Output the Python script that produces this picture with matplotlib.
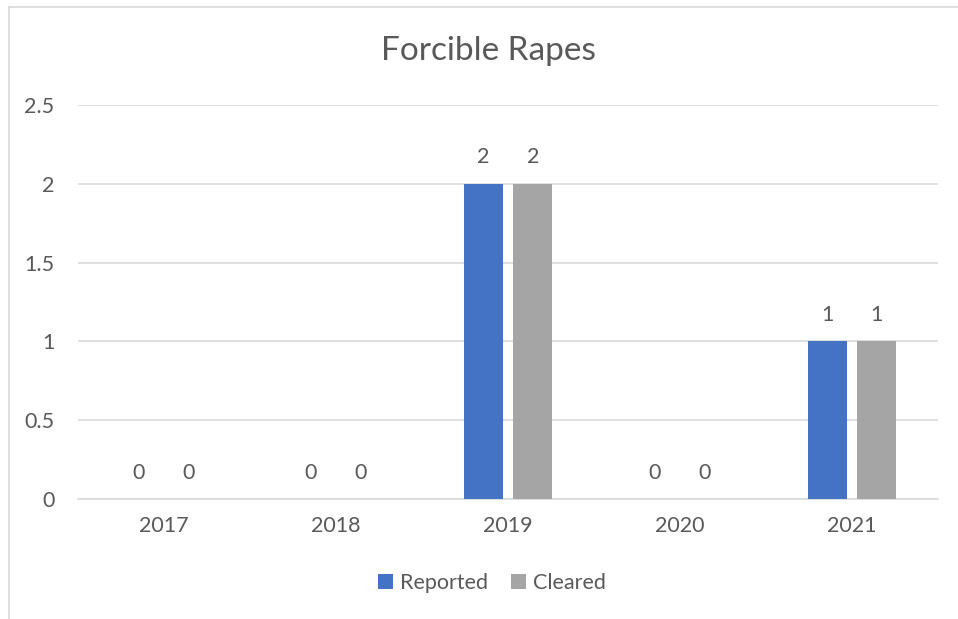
import numpy as np
import matplotlib.pyplot as plt
from matplotlib.lines import Line2D

### rcParams ###
plt.rcParams['font.family'] = ['Lato', 'DejaVu Sans']
plt.rcParams['text.color'] = '#595959'
plt.rcParams['xtick.color'] = '#595959'
plt.rcParams['ytick.color'] = '#595959'

TXT = 15.5
GRID = '#d9d9d9'

years = ['2017', '2018', '2019', '2020', '2021']
reported = [0, 0, 2, 0, 1]
cleared = [0, 0, 2, 0, 1]
series = [('Reported', reported, '#4472c4'), ('Cleared', cleared, '#a5a5a5')]

W, H = 958, 619
fig = plt.figure(figsize=(W / 100, H / 100), dpi=100)
ax = fig.add_axes([78 / W, 1 - 499 / H, 860 / W, 394 / H])

x = np.arange(len(years))
width = 0.227
offsets = [-0.145, 0.145]

for (name, vals, col), off in zip(series, offsets):
    bars = ax.bar(x + off, vals, width, color=col, label=name, zorder=3)
    for b, v in zip(bars, vals):
        ax.annotate(f"{v}", (b.get_x() + b.get_width() / 2, v),
                    xytext=(0, 19), textcoords='offset points',
                    ha='center', va='center', fontsize=TXT)

ax.set_xlim(-0.5, len(years) - 0.5)
ax.set_ylim(0, 2.5)
ax.set_yticks([0, 0.5, 1, 1.5, 2, 2.5])
ax.set_yticklabels(['0', '0.5', '1', '1.5', '2', '2.5'])
ax.set_xticks(x)
ax.set_xticklabels(years)
ax.tick_params(axis='both', length=0, labelsize=TXT)
ax.tick_params(axis='y', pad=17)
ax.tick_params(axis='x', pad=12)

ax.grid(axis='y', color=GRID, linewidth=1.2, zorder=0)
for s in ['top', 'right', 'left']:
    ax.spines[s].set_visible(False)
ax.spines['bottom'].set_color(GRID)
ax.spines['bottom'].set_linewidth(1.2)

fig.text(488 / W, 1 - 51 / H, 'Forcible Rapes', ha='center', va='center',
         fontsize=24, color='#595959')

ax.legend(loc='center', bbox_to_anchor=(492 / W, 1 - 583 / H),
          bbox_transform=fig.transFigure, ncol=2, frameon=False,
          fontsize=TXT, handlelength=0.7, handleheight=0.7,
          handletextpad=0.3, columnspacing=1.1)

# chart-area border
fig.add_artist(Line2D([8.5 / W, 8.5 / W], [0, 1 - 6.5 / H],
                      transform=fig.transFigure, color=GRID, linewidth=1.2))
fig.add_artist(Line2D([8.5 / W, 1], [1 - 6.5 / H, 1 - 6.5 / H],
                      transform=fig.transFigure, color=GRID, linewidth=1.2))

fig.savefig('out.png', dpi=100, facecolor='white')
